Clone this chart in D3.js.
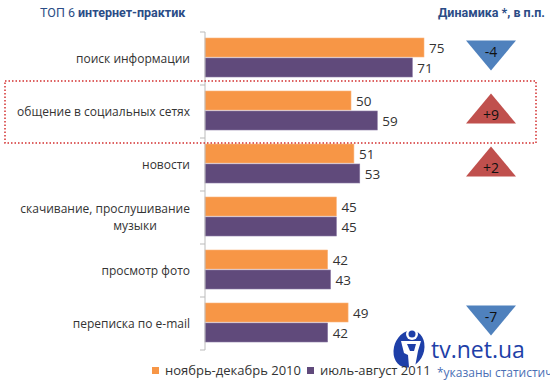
<!DOCTYPE html>
<html>
<head>
<meta charset="utf-8">
<script src="https://cdn.jsdelivr.net/npm/d3@7"></script>
<style>
body { margin: 0; background: #fff; }
svg { font-family: "Open Sans", "Noto Sans", sans-serif; }
.narrow { font-family: "Liberation Sans Narrow", "Roboto", sans-serif; }
</style>
</head>
<body>
<svg width="550" height="380"></svg>
<script>
// data
var categories = ["поиск информации", "общение в социальных сетях", "новости",
    "скачивание, прослушивание|музыки", "просмотр фото", "переписка по e-mail"];
var series2010 = [75, 50, 51, 45, 42, 49];
var series2011 = [71, 59, 53, 45, 43, 42];
var seriesNames = ["ноябрь-декабрь 2010", "июль-август 2011"];
var dynamics = [-4, 9, 2, null, null, -7];

var svg = d3.select("svg"),
    margin = { top: 32, left: 205 },
    height = 318;

var y = d3.scaleBand().domain(d3.range(categories.length)).range([margin.top, margin.top + height]);
var x = d3.scaleLinear().domain([0, 75]).range([margin.left, 424]);
var colors = ["#F79646", "#604A7B"];

// title
svg.append("text").attr("class", "narrow").attr("x", 40).attr("y", 17)
    .attr("fill", "#2B4C86").attr("font-size", 12.5)
    .html('ТОП 6 <tspan font-weight="bold">интернет-практик</tspan>');
svg.append("text").attr("class", "narrow").attr("x", 545).attr("y", 17).attr("text-anchor", "end")
    .attr("fill", "#2B4C86").attr("font-size", 12.5).attr("font-weight", "bold")
    .text("Динамика *, в п.п.");

// bars
var g = svg.append("g");
categories.forEach(function (c, i) {
    var y0 = y(i) + 6;
    [series2010[i], series2011[i]].forEach(function (v, j) {
        g.append("rect")
            .attr("x", x(0)).attr("y", y0 + j * 20)
            .attr("width", x(v) - x(0)).attr("height", 19)
            .attr("fill", colors[j])
            .attr("stroke", j ? "#8a78a3" : "#fbb57e").attr("stroke-width", 0.6);
        g.append("text")
            .attr("x", x(v) + 5).attr("y", y0 + j * 20 + 15)
            .attr("font-size", 13.5).attr("fill", "#333")
            .text(v);
    });
    // category label
    var lines = c.split("|");
    var lbl = svg.append("text").attr("text-anchor", "end").attr("font-size", 12).attr("fill", "#333");
    lines.forEach(function (t, k) {
        lbl.append("tspan")
            .attr("x", lines.length > 1 && k > 0 ? 135 : 190)
            .attr("text-anchor", lines.length > 1 && k > 0 ? "middle" : "end")
            .attr("y", y(i) + y.bandwidth() / 2 + 4 + (k - (lines.length - 1) / 2) * 17)
            .text(t);
    });
});

// axis
svg.append("line").attr("x1", x(0)).attr("x2", x(0))
    .attr("y1", margin.top).attr("y2", margin.top + height)
    .attr("stroke", "#bbb");
d3.range(categories.length + 1).forEach(function (i) {
    var ty = margin.top + i * y.step();
    svg.append("line").attr("x1", x(0) - 5).attr("x2", x(0))
        .attr("y1", ty).attr("y2", ty).attr("stroke", "#bbb");
});

// highlight box
svg.append("rect").attr("x", 5).attr("y", 81).attr("width", 531).attr("height", 62)
    .attr("fill", "none").attr("stroke", "#D32F2F").attr("stroke-width", 1.5)
    .attr("stroke-dasharray", "1.5,2");

// dynamics triangles
dynamics.forEach(function (d, i) {
    if (d === null) return;
    var cx = 491, cy = y(i) + y.bandwidth() / 2 - 3, w = 25, h = 15;
    var pts = d < 0
        ? [[cx - w, cy - h], [cx + w, cy - h], [cx, cy + h]]
        : [[cx - w, cy + h], [cx + w, cy + h], [cx, cy - h]];
    svg.append("path").attr("d", d3.line()(pts) + "Z")
        .attr("fill", d < 0 ? "#4F81BD" : "#C0504D");
    svg.append("text").attr("x", cx).attr("y", d < 0 ? cy + 1 : cy + 11)
        .attr("text-anchor", "middle").attr("font-size", 14).attr("fill", "#111")
        .text(d > 0 ? "+" + d : d);
});

// logo
var logo = svg.append("g");
logo.append("ellipse").attr("cx", 409).attr("cy", 349).attr("rx", 15).attr("ry", 19)
    .attr("transform", "rotate(20,409,349)").attr("fill", "#1E3FA8");
logo.append("circle").attr("cx", 412).attr("cy", 334).attr("r", 6).attr("fill", "#fff");
logo.append("circle").attr("cx", 412).attr("cy", 334).attr("r", 3.5).attr("fill", "#1E3FA8");
logo.append("path").attr("d", "M401,341 L421,341 L418,351 L415,367 L409,367 L408,355 L404,353 Z")
    .attr("fill", "#fff");
logo.append("path").attr("d", "M407,344 L416,344 L414,351 L410,351 Z").attr("fill", "#1E3FA8");
svg.append("text").attr("x", 431).attr("y", 358).attr("font-size", 23)
    .attr("fill", "#1E3FA8").text("tv.net.ua");
svg.append("text").attr("x", 437).attr("y", 377).attr("font-size", 12)
    .attr("fill", "#4A6FB5").text("*указаны статистичес");

// legend
seriesNames.forEach(function (n, j) {
    var lx = [152, 307][j];
    svg.append("rect").attr("x", lx).attr("y", 367).attr("width", 7).attr("height", 7).attr("fill", colors[j]);
    svg.append("text").attr("x", lx + 13).attr("y", 375).attr("font-size", 13).attr("fill", "#333").text(n);
});
</script>
</body>
</html>
